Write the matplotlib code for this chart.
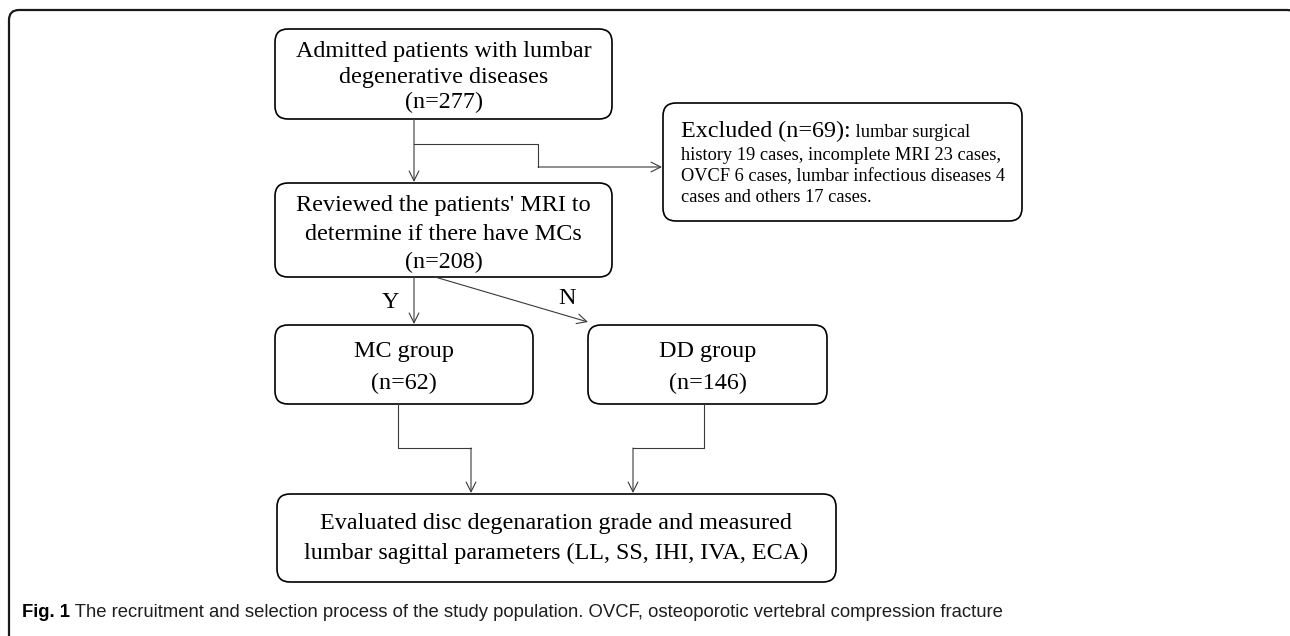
import matplotlib
matplotlib.use("Agg")
import matplotlib.pyplot as plt
from matplotlib.patches import FancyBboxPatch

# ----------------------------------------
# Данные (из рисунка)
# ----------------------------------------
admitted_n = 277
excluded_n = 69
reviewed_n = 208
mc_n = 62
dd_n = 146

admitted_lines = ["Admitted patients with lumbar", "degenerative diseases",
                  f"(n={admitted_n})"]
reviewed_lines = ["Reviewed the patients' MRI to",
                  "determine if there have MCs", f"(n={reviewed_n})"]
mc_lines = ["MC group", f"(n={mc_n})"]
dd_lines = ["DD group", f"(n={dd_n})"]
final_lines = ["Evaluated disc degenaration grade and measured",
               "lumbar sagittal parameters (LL, SS, IHI, IVA, ECA)"]
excluded_head = f"Excluded (n={excluded_n}):"
excluded_lines = [" lumbar surgical",
                  "history 19 cases, incomplete MRI 23 cases,",
                  "OVCF 6 cases, lumbar infectious diseases 4",
                  "cases and others 17 cases."]
caption_bold = "Fig. 1"
caption_text = (" The recruitment and selection process of the study "
                "population. OVCF, osteoporotic vertebral compression fracture")

SERIF = ["Liberation Serif", "DejaVu Serif"]
CAP = ["Liberation Sans Narrow", "Liberation Sans", "DejaVu Sans"]
BIG = 17.4
SMALL = 13.2
BOX_LW = 1.2
LINE_C = "#3a3a3a"

W, H = 1290, 636
fig = plt.figure(figsize=(W / 100, H / 100), dpi=100)
ax = fig.add_axes([0, 0, 1, 1])
ax.set_xlim(0, W)
ax.set_ylim(H, 0)
ax.axis("off")


def box(x0, y0, x1, y1, r=13):
    p = FancyBboxPatch((x0 + r, y0 + r), x1 - x0 - 2 * r, y1 - y0 - 2 * r,
                       boxstyle=f"round,pad={r}", fc="white", ec="black",
                       lw=BOX_LW)
    ax.add_patch(p)


def lines_text(lines, xc, ys, size=BIG):
    for s, y in zip(lines, ys):
        ax.text(xc, y, s, ha="center", va="center", fontsize=size,
                family=SERIF)


def arrow(pts):
    xs = [p[0] for p in pts]
    ys = [p[1] for p in pts]
    ax.plot(xs[:-1], ys[:-1], color=LINE_C, lw=0.8)
    ax.annotate("", xy=pts[-1], xytext=pts[-2],
                arrowprops=dict(arrowstyle="->,head_length=0.7,head_width=0.35",
                                color=LINE_C, lw=0.8, shrinkA=0, shrinkB=0))


# внешняя рамка (правый и нижний края за пределами картинки)
frame = FancyBboxPatch((19, 20), 1268, 700, boxstyle="round,pad=10",
                       fc="none", ec="#1a1a1a", lw=1.6, clip_on=False)
ax.add_patch(frame)

# блоки
box(275, 29, 612, 119)
lines_text(admitted_lines, 443.5, [52, 77, 102])

box(275, 183, 612, 277)
lines_text(reviewed_lines, 443.5, [206, 234, 262])

box(663, 103, 1022, 221)
t1 = ax.text(681, 137, excluded_head, ha="left", va="baseline",
             fontsize=BIG, family=SERIF)
fig.canvas.draw()
bb = t1.get_window_extent().transformed(ax.transData.inverted())
ax.text(bb.x1, 137, excluded_lines[0], ha="left", va="baseline",
        fontsize=SMALL, family=SERIF)
for s, y in zip(excluded_lines[1:], [155, 177, 198]):
    ax.text(681, y, s, ha="left", va="center", fontsize=SMALL, family=SERIF)

box(275, 325, 533, 404)
lines_text(mc_lines, 404, [352, 383])

box(588, 325, 827, 404)
lines_text(dd_lines, 708, [352, 383])

box(277, 494, 836, 582)
lines_text(final_lines, 556, [524, 553])

# стрелки
arrow([(414, 119), (414, 182)])
arrow([(414, 144), (538, 144), (538, 167), (662, 167)])
arrow([(414, 277), (414, 324)])
arrow([(435, 277), (588, 322)])
arrow([(398, 404), (398, 448), (471, 448), (471, 493)])
arrow([(704, 404), (704, 448), (633, 448), (633, 493)])

ax.text(390, 302, "Y", ha="center", va="center", fontsize=BIG, family=SERIF)
ax.text(567, 299, "N", ha="center", va="center", fontsize=BIG, family=SERIF)

# подпись
c1 = ax.text(22, 617, caption_bold, ha="left", va="baseline", fontsize=13.3,
             family=CAP, weight="bold")
fig.canvas.draw()
bb = c1.get_window_extent().transformed(ax.transData.inverted())
ax.text(bb.x1, 617, caption_text, ha="left", va="baseline", fontsize=13.3,
        family=CAP, color="#1e1e1e")

fig.savefig("out.png", dpi=100)
